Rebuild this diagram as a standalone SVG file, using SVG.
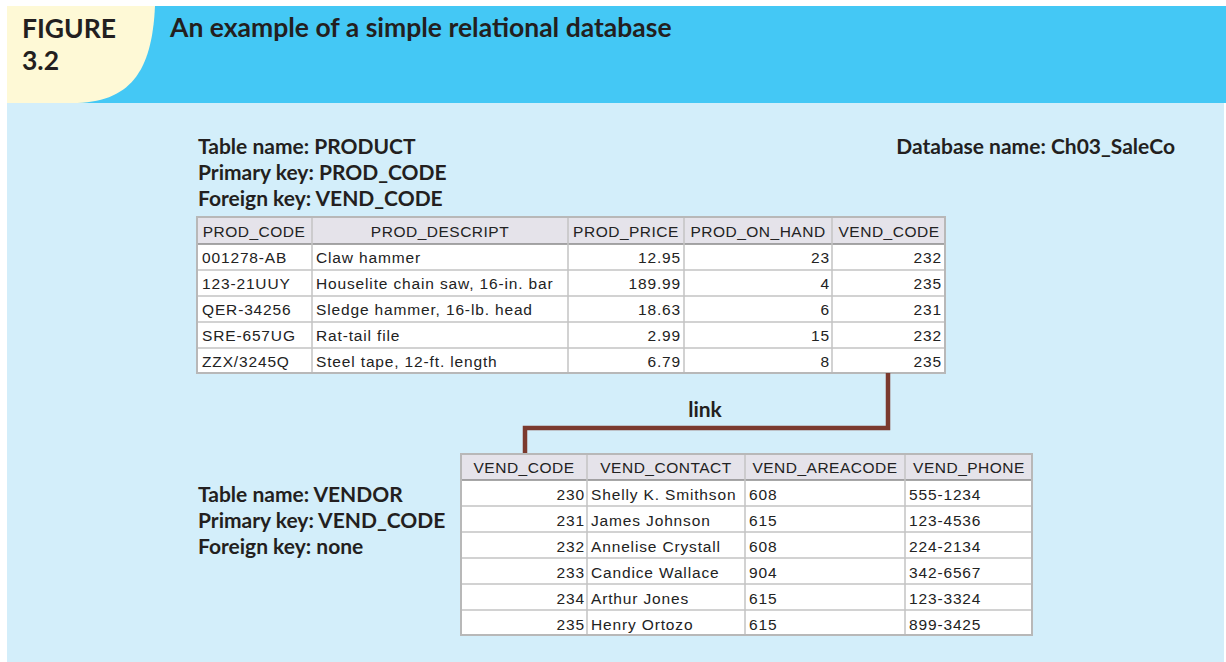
<svg xmlns="http://www.w3.org/2000/svg" width="1226" height="662" viewBox="0 0 1226 662">
  <style>
    .hd { font-family: Lato, "Open Sans", sans-serif; font-weight: bold; fill: #231f20; }
    .fig { font-size: 26.5px; }
    .title { font-size: 26.5px; }
    .lbl { font-size: 21px; }
    .cell { font-family: "Liberation Sans", Arial, sans-serif; font-size: 15.5px; fill: #222; letter-spacing: 0.85px; }
    .c { text-anchor: middle; letter-spacing: 0.5px; }
    .r { text-anchor: end; }
    .tbl { fill: #fff; stroke: #b8b8b8; stroke-width: 2; }
    .hrow { fill: #e5e3ea; }
    .grid { stroke: #c4c4c4; stroke-width: 1.5; fill: none; }
    .hline { stroke: #8a8a8a; stroke-width: 1.5; }
    .link { fill: none; stroke: #7b3a2e; stroke-width: 4.5; }
  </style>

  <!-- page background and header band -->
  <rect x="0" y="0" width="1226" height="662" fill="#ffffff"/>
  <rect x="7" y="103" width="1217" height="559" fill="#d3eefa"/>
  <rect x="7" y="6" width="1219" height="97" fill="#44c8f5"/>
  <path d="M7,6 H155 C152,72 130,103 72,103 H7 Z" fill="#fef9d6"/>
  <text class="hd fig" x="22" y="38">FIGURE</text>
  <text class="hd fig" x="22" y="70">3.2</text>
  <text class="hd title" x="170" y="37">An example of a simple relational database</text>

  <!-- PRODUCT table -->
  <g id="product">
    <text class="hd lbl" x="198" y="154">Table name: PRODUCT</text>
    <text class="hd lbl" x="198" y="180">Primary key: PROD_CODE</text>
    <text class="hd lbl" x="198" y="206">Foreign key: VEND_CODE</text>
    <rect class="tbl" x="197" y="217" width="748" height="156"/>
    <rect class="hrow" x="198" y="218" width="746" height="26"/>
    <line class="hline" x1="198" y1="244" x2="944" y2="244"/>
    <path class="grid" d="M198,270 H944 M198,296 H944 M198,322 H944 M198,348 H944 M312,218 V372 M568,218 V372 M684,218 V372 M832,218 V372"/>
    <text class="cell c" x="254" y="237">PROD_CODE</text>
    <text class="cell c" x="440" y="237">PROD_DESCRIPT</text>
    <text class="cell c" x="626" y="237">PROD_PRICE</text>
    <text class="cell c" x="758" y="237">PROD_ON_HAND</text>
    <text class="cell c" x="889" y="237">VEND_CODE</text>

    <text class="cell" x="202" y="263">001278-AB</text>
    <text class="cell" x="202" y="289">123-21UUY</text>
    <text class="cell" x="202" y="315">QER-34256</text>
    <text class="cell" x="202" y="341">SRE-657UG</text>
    <text class="cell" x="202" y="367">ZZX/3245Q</text>

    <text class="cell" x="316" y="263">Claw hammer</text>
    <text class="cell" x="316" y="289">Houselite chain saw, 16-in. bar</text>
    <text class="cell" x="316" y="315">Sledge hammer, 16-lb. head</text>
    <text class="cell" x="316" y="341">Rat-tail file</text>
    <text class="cell" x="316" y="367">Steel tape, 12-ft. length</text>

    <text class="cell r" x="681" y="263">12.95</text>
    <text class="cell r" x="681" y="289">189.99</text>
    <text class="cell r" x="681" y="315">18.63</text>
    <text class="cell r" x="681" y="341">2.99</text>
    <text class="cell r" x="681" y="367">6.79</text>

    <text class="cell r" x="830" y="263">23</text>
    <text class="cell r" x="830" y="289">4</text>
    <text class="cell r" x="830" y="315">6</text>
    <text class="cell r" x="830" y="341">15</text>
    <text class="cell r" x="830" y="367">8</text>

    <text class="cell r" x="942" y="263">232</text>
    <text class="cell r" x="942" y="289">235</text>
    <text class="cell r" x="942" y="315">231</text>
    <text class="cell r" x="942" y="341">232</text>
    <text class="cell r" x="942" y="367">235</text>
  </g>

  <g id="database">
    <text class="hd lbl" x="1175" y="154" text-anchor="end">Database name: Ch03_SaleCo</text>
  </g>

  <!-- VEND_CODE link between the tables -->
  <g id="connectors">
    <path class="link" d="M888,373 V428 H525 V454"/>
    <text class="hd lbl" x="705" y="417" text-anchor="middle">link</text>
  </g>

  <!-- VENDOR table -->
  <g id="vendor">
    <text class="hd lbl" x="198" y="502">Table name: VENDOR</text>
    <text class="hd lbl" x="198" y="528">Primary key: VEND_CODE</text>
    <text class="hd lbl" x="198" y="554">Foreign key: none</text>
    <rect class="tbl" x="461" y="454" width="571" height="181"/>
    <rect class="hrow" x="462" y="455" width="569" height="25"/>
    <line class="hline" x1="462" y1="480" x2="1031" y2="480"/>
    <path class="grid" d="M462,506 H1031 M462,532 H1031 M462,558 H1031 M462,584 H1031 M462,610 H1031 M587,455 V634 M745,455 V634 M905,455 V634"/>
    <text class="cell c" x="524" y="473">VEND_CODE</text>
    <text class="cell c" x="666" y="473">VEND_CONTACT</text>
    <text class="cell c" x="825" y="473">VEND_AREACODE</text>
    <text class="cell c" x="969" y="473">VEND_PHONE</text>

    <text class="cell r" x="585" y="500">230</text>
    <text class="cell r" x="585" y="526">231</text>
    <text class="cell r" x="585" y="552">232</text>
    <text class="cell r" x="585" y="578">233</text>
    <text class="cell r" x="585" y="604">234</text>
    <text class="cell r" x="585" y="630">235</text>

    <text class="cell" x="591" y="500">Shelly K. Smithson</text>
    <text class="cell" x="591" y="526">James Johnson</text>
    <text class="cell" x="591" y="552">Annelise Crystall</text>
    <text class="cell" x="591" y="578">Candice Wallace</text>
    <text class="cell" x="591" y="604">Arthur Jones</text>
    <text class="cell" x="591" y="630">Henry Ortozo</text>

    <text class="cell" x="749" y="500">608</text>
    <text class="cell" x="749" y="526">615</text>
    <text class="cell" x="749" y="552">608</text>
    <text class="cell" x="749" y="578">904</text>
    <text class="cell" x="749" y="604">615</text>
    <text class="cell" x="749" y="630">615</text>

    <text class="cell" x="909" y="500">555-1234</text>
    <text class="cell" x="909" y="526">123-4536</text>
    <text class="cell" x="909" y="552">224-2134</text>
    <text class="cell" x="909" y="578">342-6567</text>
    <text class="cell" x="909" y="604">123-3324</text>
    <text class="cell" x="909" y="630">899-3425</text>
  </g>
</svg>
